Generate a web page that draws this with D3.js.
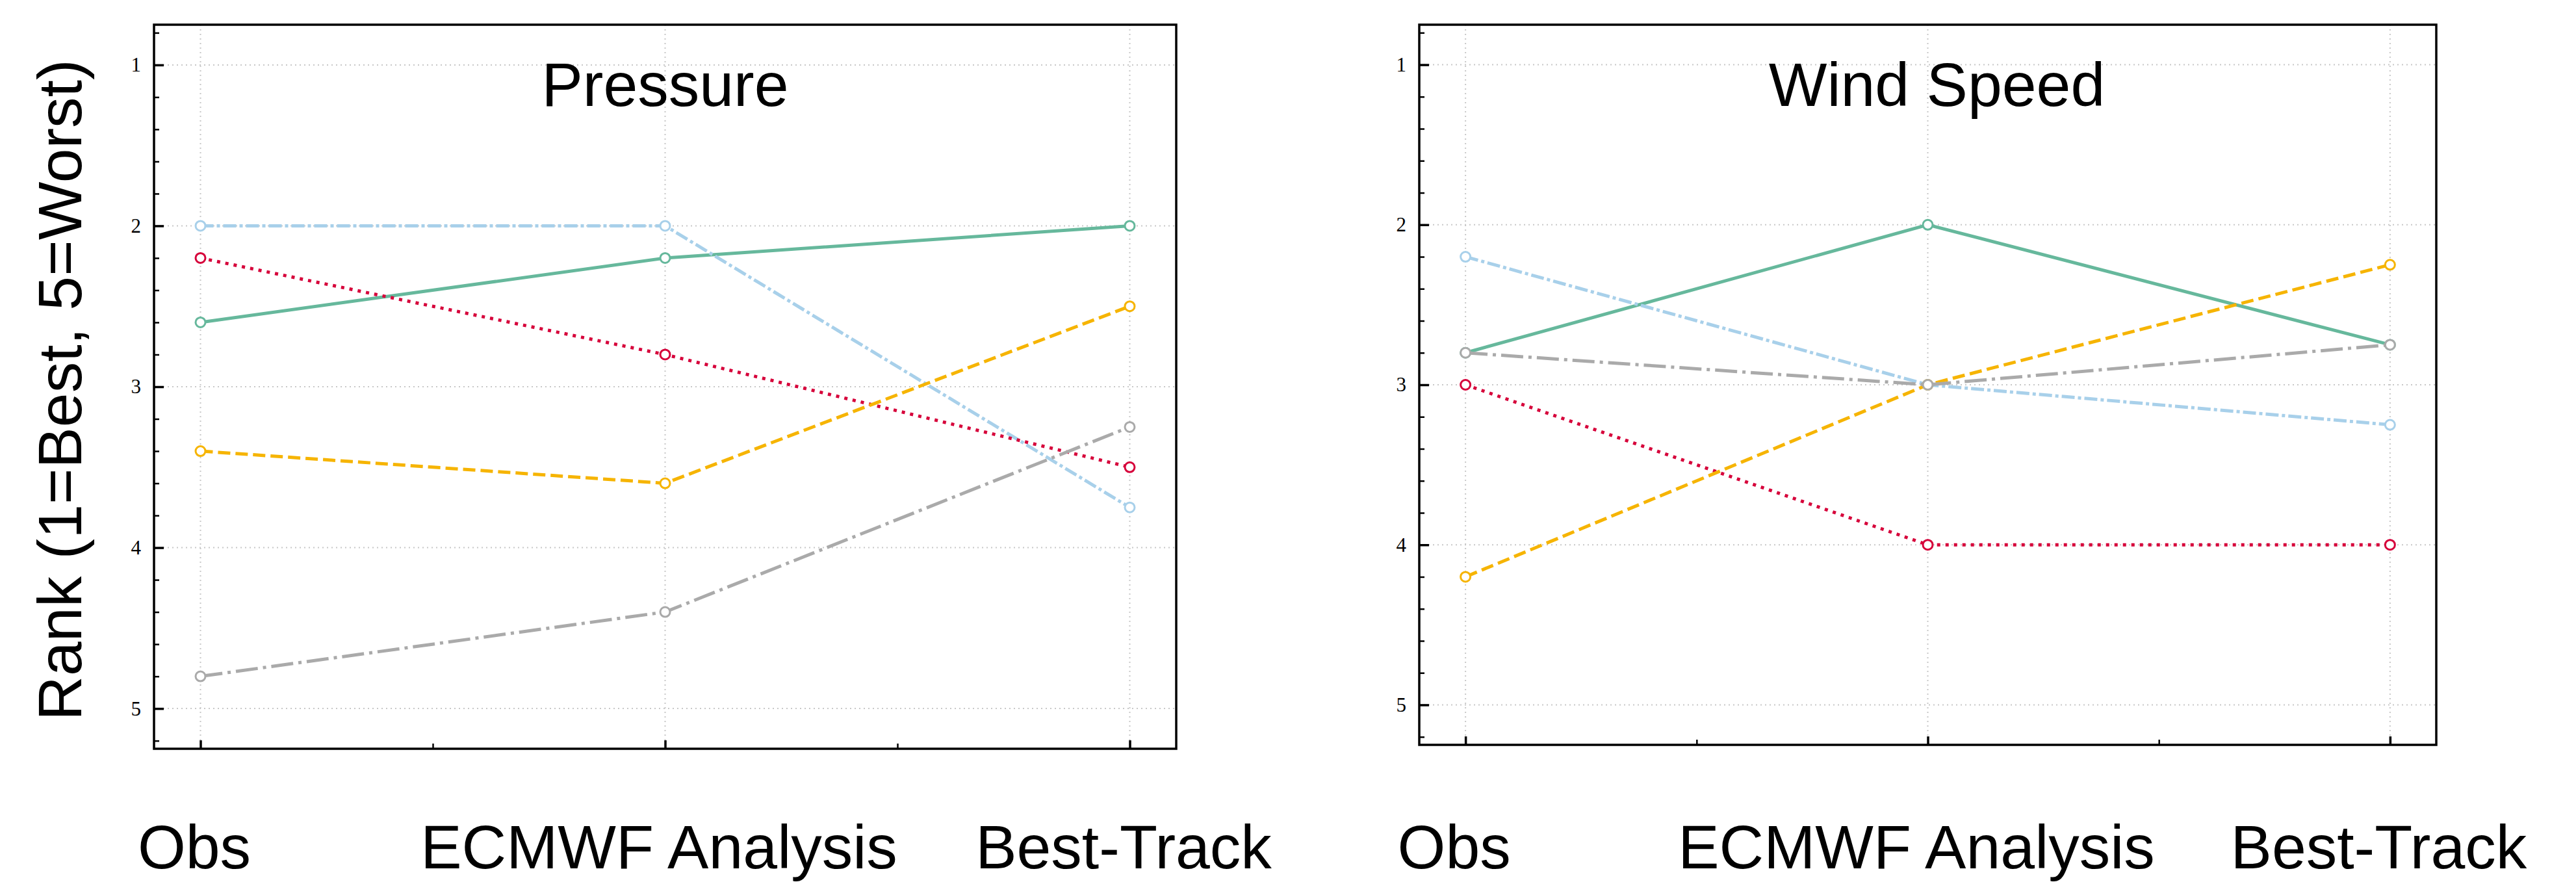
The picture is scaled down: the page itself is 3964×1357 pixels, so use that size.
<!DOCTYPE html>
<html>
<head>
<meta charset="utf-8">
<script src="https://cdn.jsdelivr.net/npm/d3@7"></script>
<style>
  html, body { margin: 0; padding: 0; background: #fff; }
  svg { display: block; }
</style>
</head>
<body>
<svg id="chart" width="3964" height="1357"></svg>
<script>
// ---- data ----
const categories = ["Obs", "ECMWF Analysis", "Best-Track"];
const panelTitles = ["Pressure", "Wind Speed"];
const yTicks = [1, 2, 3, 4, 5];
const yMinorTicks = [0.8, 1.2, 1.4, 1.6, 1.8, 2.2, 2.4, 2.6, 2.8, 3.2, 3.4, 3.6, 3.8, 4.2, 4.4, 4.6, 4.8, 5.2];
const xMinorTicks = [0.5, 1.5];
const yLabel = "Rank (1=Best, 5=Worst)";

// Pressure ranks per series
const pressureGreen  = [2.6, 2.2, 2.0];
const pressureBlue   = [2.0, 2.0, 3.75];
const pressureRed    = [2.2, 2.8, 3.5];
const pressureOrange = [3.4, 3.6, 2.5];
const pressureGray   = [4.8, 4.4, 3.25];

// Wind speed ranks per series
const windGreen  = [2.8, 2.0, 2.75];
const windBlue   = [2.2, 3.0, 3.25];
const windRed    = [3.0, 4.0, 4.0];
const windOrange = [4.2, 3.0, 2.25];
const windGray   = [2.8, 3.0, 2.75];

// ---- styles ----
const seriesStyles = [
  { color: "#66b89c", dash: null },
  { color: "#a8d0ea", dash: "20,5,5,5" },
  { color: "#d6003a", dash: "5,8" },
  { color: "#f6b400", dash: "19,8" },
  { color: "#aaaaaa", dash: "34,8,5,8" }
];

const panels = [
  { title: panelTitles[0], series: [pressureGreen, pressureBlue, pressureRed, pressureOrange, pressureGray],
    left: 237, right: 1810, top: 38, bottom: 1152, showYLabel: true, titleShift: 0, labelShift: -10 },
  { title: panelTitles[1], series: [windGreen, windBlue, windRed, windOrange, windGray],
    left: 2184, right: 3749, top: 38, bottom: 1146, showYLabel: false, titleShift: 14, labelShift: -18 }
];

const svg = d3.select("#chart");
const labelFont = "'Liberation Sans', Arial, Helvetica, sans-serif";
const tickFont = "'Liberation Serif', 'Times New Roman', serif";
const labelBaseline = 1336;

panels.forEach(p => {
  const x = d3.scaleLinear().domain([-0.1, 2.1]).range([p.left, p.right]);
  const y = d3.scaleLinear().domain([0.75, 5.25]).range([p.top, p.bottom]);
  const g = svg.append("g");

  // grid
  g.append("g").selectAll("line").data(yTicks).join("line")
    .attr("x1", p.left).attr("x2", p.right)
    .attr("y1", d => y(d)).attr("y2", d => y(d))
    .attr("stroke", "#c8c8c8").attr("stroke-width", 2).attr("stroke-dasharray", "2,5");
  g.append("g").selectAll("line").data(d3.range(categories.length)).join("line")
    .attr("x1", d => x(d)).attr("x2", d => x(d))
    .attr("y1", p.top).attr("y2", p.bottom)
    .attr("stroke", "#c8c8c8").attr("stroke-width", 2).attr("stroke-dasharray", "2,5");

  // lines and markers
  const line = d3.line().x((d, i) => x(i)).y(d => y(d));
  p.series.forEach((vals, si) => {
    const st = seriesStyles[si];
    const path = g.append("path").datum(vals)
      .attr("d", line)
      .attr("fill", "none")
      .attr("stroke", st.color)
      .attr("stroke-width", 5);
    if (st.dash) path.attr("stroke-dasharray", st.dash);
    g.append("g").selectAll("circle").data(vals).join("circle")
      .attr("cx", (d, i) => x(i)).attr("cy", d => y(d))
      .attr("r", 7.5)
      .attr("fill", "#fff")
      .attr("stroke", st.color)
      .attr("stroke-width", 3);
  });

  // frame
  g.append("rect")
    .attr("x", p.left).attr("y", p.top)
    .attr("width", p.right - p.left).attr("height", p.bottom - p.top)
    .attr("fill", "none").attr("stroke", "#000").attr("stroke-width", 3.5);

  // y axis (major, inward)
  const yAxis = g.append("g").attr("transform", `translate(${p.left},0)`)
    .call(d3.axisLeft(y).tickValues(yTicks).tickSizeInner(-15).tickSizeOuter(0).tickPadding(20).tickFormat(d3.format("d")));
  yAxis.select(".domain").remove();
  yAxis.selectAll(".tick line").attr("stroke", "#000").attr("stroke-width", 3.5);
  yAxis.selectAll(".tick text").attr("font-family", tickFont).attr("font-size", 31).attr("fill", "#000");

  const yMinor = g.append("g").attr("transform", `translate(${p.left},0)`)
    .call(d3.axisLeft(y).tickValues(yMinorTicks).tickSizeInner(-8).tickSizeOuter(0).tickFormat(""));
  yMinor.select(".domain").remove();
  yMinor.selectAll(".tick line").attr("stroke", "#000").attr("stroke-width", 2.5);

  // x axis (major inward ticks + big labels)
  const labelPad = labelBaseline - p.bottom - 0.71 * 95;
  const xAxis = g.append("g").attr("transform", `translate(0,${p.bottom})`)
    .call(d3.axisBottom(x).tickValues(d3.range(categories.length)).tickSizeInner(-13).tickSizeOuter(0)
      .tickPadding(labelPad).tickFormat(i => categories[i]));
  xAxis.select(".domain").remove();
  xAxis.selectAll(".tick line").attr("stroke", "#000").attr("stroke-width", 3.5);
  xAxis.selectAll(".tick text").attr("font-family", labelFont).attr("font-size", 95).attr("fill", "#000")
    .attr("dx", p.labelShift);

  const xMinor = g.append("g").attr("transform", `translate(0,${p.bottom})`)
    .call(d3.axisBottom(x).tickValues(xMinorTicks).tickSizeInner(-8).tickSizeOuter(0).tickFormat(""));
  xMinor.select(".domain").remove();
  xMinor.selectAll(".tick line").attr("stroke", "#000").attr("stroke-width", 2.5);

  // title
  g.append("text")
    .attr("x", (p.left + p.right) / 2 + p.titleShift).attr("y", 163)
    .attr("text-anchor", "middle")
    .attr("font-family", labelFont).attr("font-size", 95).attr("fill", "#000")
    .text(p.title);

  if (p.showYLabel) {
    svg.append("text")
      .attr("transform", "translate(125,600) rotate(-90)")
      .attr("text-anchor", "middle")
      .attr("font-family", labelFont).attr("font-size", 95).attr("fill", "#000")
      .text(yLabel);
  }
});
</script>
</body>
</html>
